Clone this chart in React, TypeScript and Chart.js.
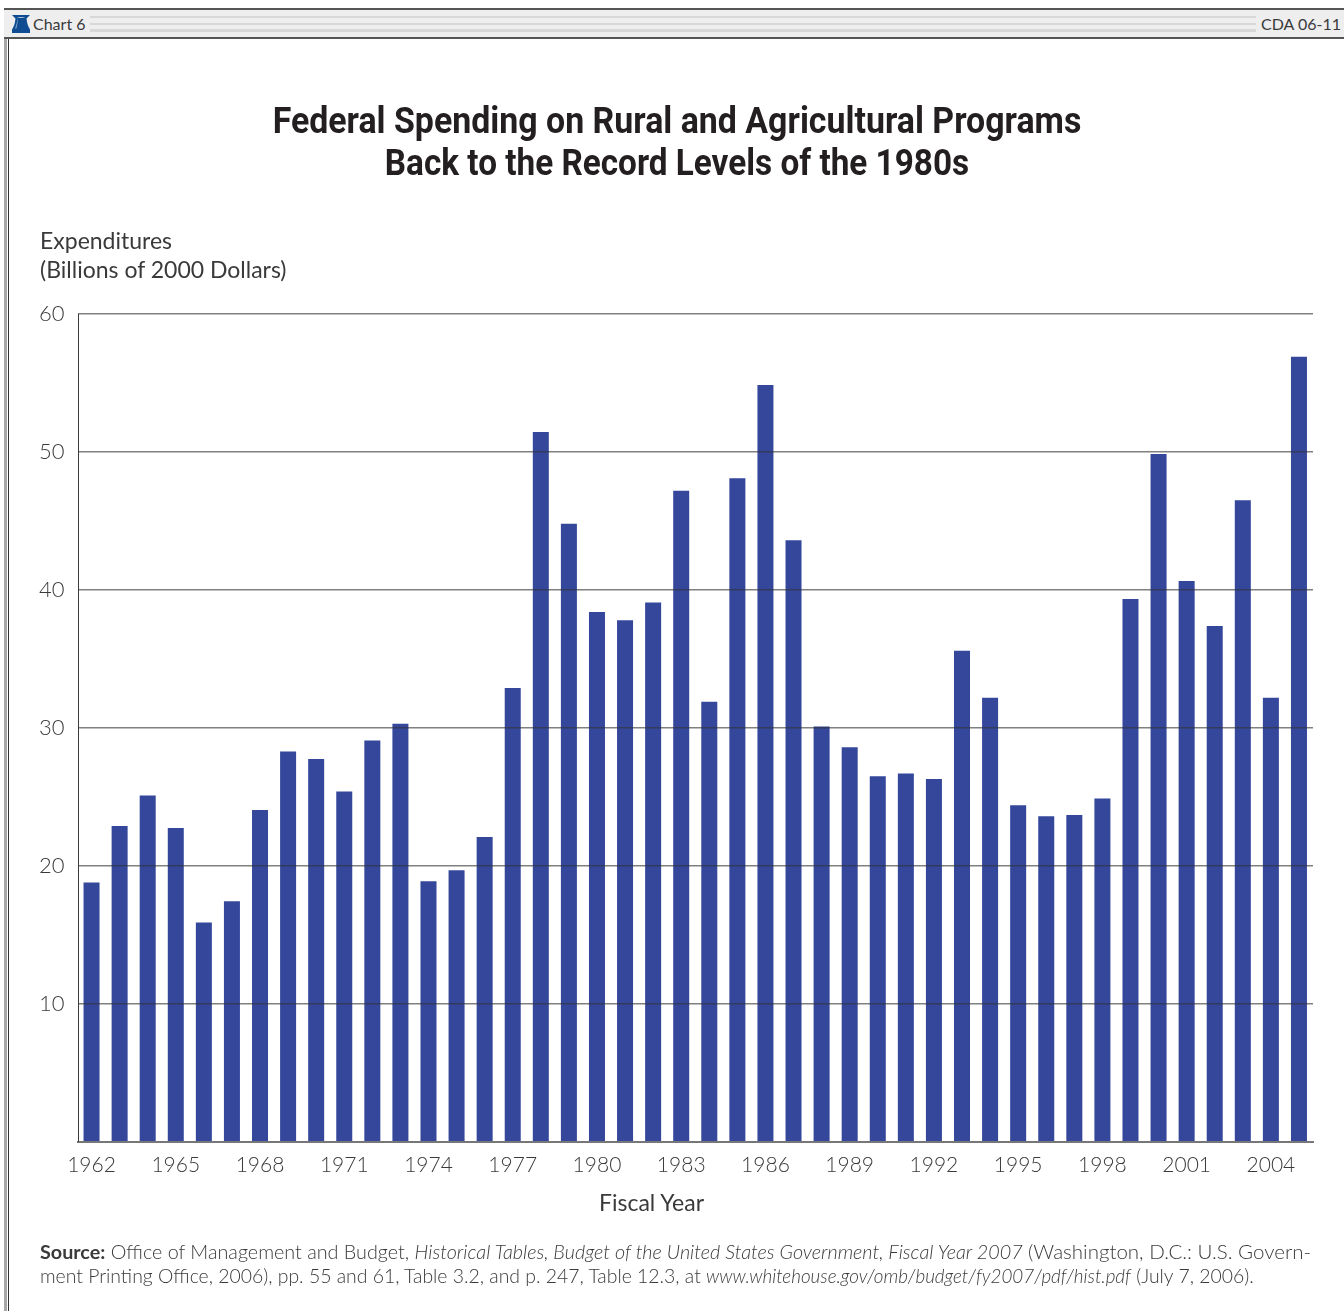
import React, { useEffect, useRef } from "react";
import { Chart, registerables } from "chart.js";

Chart.register(...registerables);

const fiscalYears = [
  1962, 1963, 1964, 1965, 1966, 1967, 1968, 1969, 1970, 1971, 1972,
  1973, 1974, 1975, 1976, 1977, 1978, 1979, 1980, 1981, 1982, 1983,
  1984, 1985, 1986, 1987, 1988, 1989, 1990, 1991, 1992, 1993, 1994,
  1995, 1996, 1997, 1998, 1999, 2000, 2001, 2002, 2003, 2004, 2005,
];
const expenditures = [
  18.8, 22.9, 25.1, 22.75, 15.9, 17.45, 24.05, 28.3, 27.75, 25.4, 29.1,
  30.3, 18.9, 19.7, 22.1, 32.9, 51.45, 44.8, 38.4, 37.8, 39.1, 47.2,
  31.9, 48.1, 54.85, 43.6, 30.1, 28.6, 26.5, 26.7, 26.3, 35.6, 32.2,
  24.4, 23.6, 23.7, 24.9, 39.35, 49.85, 40.65, 37.4, 46.5, 32.2, 56.9,
];
const yTicks = [10, 20, 30, 40, 50, 60];
const titleLines = [
  "Federal Spending on Rural and Agricultural Programs",
  "Back to the Record Levels of the 1980s",
];
const bodyFont = "Lato, 'Open Sans', sans-serif";
const ink = "#3a3a3c";

const text = (style: React.CSSProperties): React.CSSProperties => ({
  position: "absolute",
  whiteSpace: "nowrap",
  fontFamily: bodyFont,
  color: ink,
  ...style,
});

// Left edge of the plot frame, the thin rule beside the bars.
const plotEdge = {
  id: "plotEdge",
  afterDraw(chart: any) {
    const { ctx, chartArea } = chart;
    ctx.save();
    ctx.fillStyle = "#3a3a3c";
    ctx.fillRect(Math.round(chartArea.left), chartArea.top, 1, chartArea.bottom - chartArea.top);
    ctx.restore();
  },
};

function Bell() {
  return (
    <svg width="18" height="18" viewBox="0 0 18 18" style={{ position: "absolute", left: 12, top: 15 }}>
      <path d="M0 0H18L14.5 3.5C15 9 16.5 12 18 14.5V18H0V14.5C1.5 12 3 9 3.5 3.5Z" fill="#0f4c91" />
      <path d="M4.6 3.2C6 1.6 12 1.6 13.4 3.2C12 2.6 6 2.6 4.6 3.2Z" fill="#dfe8f2" />
      <path d="M3 13.4C5 9 5 5 6 4C5.7 7 5.4 10 4.4 13.4Z" fill="#dfe8f2" opacity="0.55" />
    </svg>
  );
}

export default function App() {
  const canvasRef = useRef<HTMLCanvasElement>(null);

  useEffect(() => {
    document.body.style.margin = "0";
    const chart = new Chart(canvasRef.current!, {
      type: "bar",
      data: {
        labels: fiscalYears.map(String),
        datasets: [
          {
            data: expenditures,
            backgroundColor: "#34479b",
            categoryPercentage: 1,
            barPercentage: 0.57,
          },
        ],
      },
      plugins: [plotEdge],
      options: {
        responsive: false,
        animation: false,
        layout: { padding: { top: 314, right: 31, bottom: 0, left: 0 } },
        plugins: { legend: { display: false }, tooltip: { enabled: false } },
        scales: {
          x: {
            grid: { display: false, drawTicks: false },
            border: { color: "#77777a", width: 2, z: 2 },
            afterFit: (s: any) => { s.height = 169; },
            ticks: {
              autoSkip: false,
              maxRotation: 0,
              padding: 11,
              color: ink,
              font: { family: bodyFont, size: 21, weight: "300" },
              callback: (_v: any, i: number) => (i % 3 === 0 ? String(fiscalYears[i]) : ""),
            },
          },
          y: {
            min: 0,
            max: 60,
            afterFit: (s: any) => { s.width = 77.5; },
            afterBuildTicks: (s: any) => { s.ticks = yTicks.map((value) => ({ value })); },
            grid: { color: "rgba(50,50,52,0.62)", lineWidth: 1.5, drawTicks: false, z: 1 },
            border: { display: false },
            ticks: {
              padding: 13,
              color: ink,
              font: { family: bodyFont, size: 22, weight: "300" },
            },
          },
        },
      },
    });
    return () => chart.destroy();
  }, []);

  return (
    <div style={{ position: "absolute", left: 0, top: 0, width: 1344, height: 1311, background: "#fff", overflow: "hidden" }}>
      <div style={{ position: "absolute", left: 4, top: 8, width: 1340, height: 31, background: "#eeeeef", borderTop: "2px solid #555", borderBottom: "2px solid #555", boxSizing: "border-box" }} />
      <div style={{ position: "absolute", left: 4, top: 39, width: 3, height: 1272, background: "#a8a8a8" }} />
      <div style={{ position: "absolute", left: 8, top: 39, width: 1, height: 1272, background: "#333" }} />
      <div style={{ position: "absolute", left: 90, top: 16, width: 1166, height: 16, backgroundImage: "repeating-linear-gradient(#d8d8d8 0 2.5px, #eeeeef 2.5px 6.7px)" }} />
      <Bell />
      <div style={text({ left: 33, top: 14, fontSize: 16 })}>Chart 6</div>
      <div style={text({ right: 3, top: 14, fontSize: 16 })}>CDA 06-11</div>
      <canvas ref={canvasRef} width={1344} height={1311} style={{ position: "absolute", left: 0, top: 0, display: "block" }} />
      {titleLines.map((line, i) => (
        <div key={line} style={text({ left: 0, width: 1354, textAlign: "center", top: 99 + i * 42, fontFamily: "Roboto, 'Liberation Sans', sans-serif", fontWeight: 700, fontSize: 37, color: "#231f20", transform: `scaleX(${i === 0 ? 0.916 : 0.9})` })}>
          {line}
        </div>
      ))}
      <div style={text({ left: 40, top: 226, fontSize: 23 })}>Expenditures</div>
      <div style={text({ left: 40, top: 255, fontSize: 23 })}>(Billions of 2000 Dollars)</div>
      <div style={text({ left: 599, top: 1188, fontSize: 23 })}>Fiscal Year</div>
      <div style={text({ left: 40, top: 1239, fontSize: 19.75, fontWeight: 300 })}>
        <b style={{ fontWeight: 700 }}>Source:</b> Office of Management and Budget, <i>Historical Tables, Budget of the United States Government, Fiscal Year 2007</i> <span style={{ fontSize: 20.5 }}>(Washington, D.C.: U.S. Govern-</span>
      </div>
      <div style={text({ left: 40, top: 1264, fontSize: 19.4, fontWeight: 300 })}>
        ment Printing Office, 2006), pp. 55 and 61, Table 3.2, and p. 247, Table 12.3, at <i style={{ fontSize: 18.85 }}>www.whitehouse.gov/omb/budget/fy2007/pdf/hist.pdf</i> (July 7, 2006).
      </div>
    </div>
  );
}
